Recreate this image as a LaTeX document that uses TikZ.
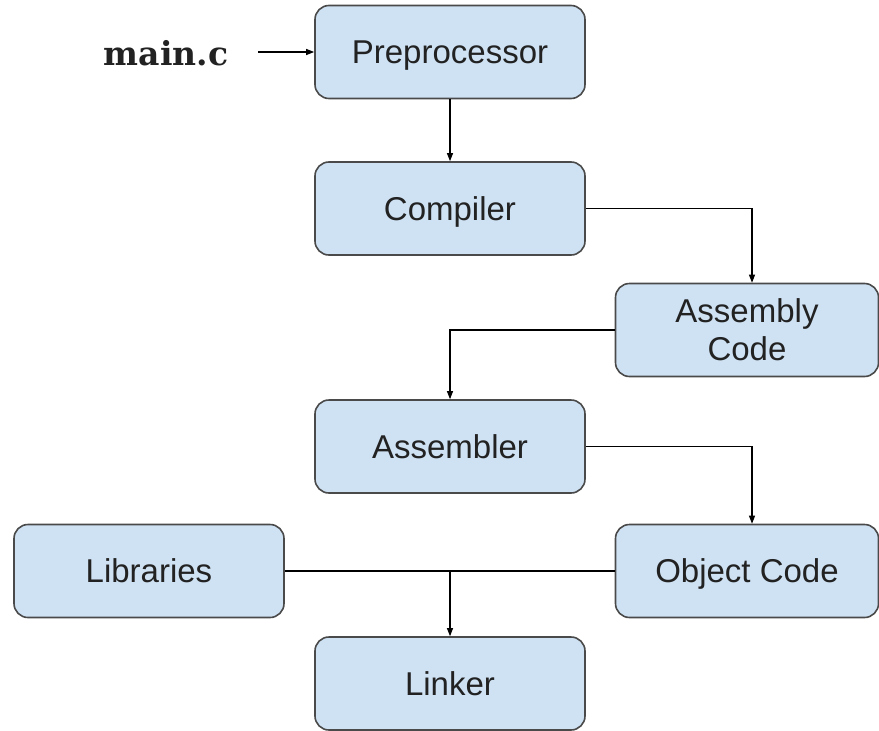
\documentclass[tikz,border=0pt]{standalone}
\usepackage{fontspec}
\setmainfont{Liberation Sans}
\newfontfamily\slabfont{DejaVu Serif}
\usetikzlibrary{arrows.meta}
\definecolor{boxfill}{HTML}{CFE2F3}
\definecolor{boxline}{HTML}{4A4A4A}
\definecolor{labeltext}{HTML}{222222}
\tikzset{
  stagebox/.style={draw=boxline, line width=1.6pt, fill=boxfill, rounded corners=14pt,
    minimum width=270pt, minimum height=93pt, inner sep=0pt, align=center,
    font=\fontsize{33}{38}\selectfont, text=labeltext},
  onelinebox/.style={stagebox, text height=24pt, text depth=1pt},
  sidebox/.style={minimum width=263pt},
  flow/.style={draw=black, line width=1.1pt, -{Triangle[length=8pt,width=6pt]}},
  joint/.style={draw=black, line width=1.1pt}
}
\begin{document}
\begin{tikzpicture}[x=1pt, y=-1pt]
  \useasboundingbox (0,0) rectangle (879,731);
  % input file name
  \node[anchor=base, inner sep=0pt, font=\slabfont\bfseries\fontsize{33}{40}\selectfont, text=labeltext] (mainc) at (166,65) {main.c};
  % pipeline stages
  \node[onelinebox] (pre) at (450,52) {Preprocessor};
  \node[onelinebox] (comp) at (450,208.5) {Compiler};
  \node[stagebox, sidebox] (asmcode) at (747,330) {Assembly\\Code};
  \node[onelinebox] (asm) at (450,446.5) {Assembler};
  \node[onelinebox] (libs) at (149,571) {Libraries};
  \node[onelinebox, sidebox] (obj) at (747,571) {Object Code};
  \node[onelinebox] (link) at (450,683.5) {Linker};
  % connectors
  \coordinate (inStart) at (258,52);
  \draw[flow] (inStart) -- (pre.west);
  \draw[flow] (pre.south) -- (comp.north);
  \coordinate (c1) at (752,208.5);
  \draw[flow] (comp.east) -- (c1) -- (c1 |- asmcode.north);
  \coordinate (c2) at (450,330);
  \draw[flow] (asmcode.west) -- (c2) -- (asm.north);
  \coordinate (c3) at (752,446.5);
  \draw[flow] (asm.east) -- (c3) -- (c3 |- obj.north);
  \draw[joint] (libs.east) -- (obj.west);
  \coordinate (merge) at (450,571);
  \draw[flow] (merge) -- (link.north);
\end{tikzpicture}
\end{document}
